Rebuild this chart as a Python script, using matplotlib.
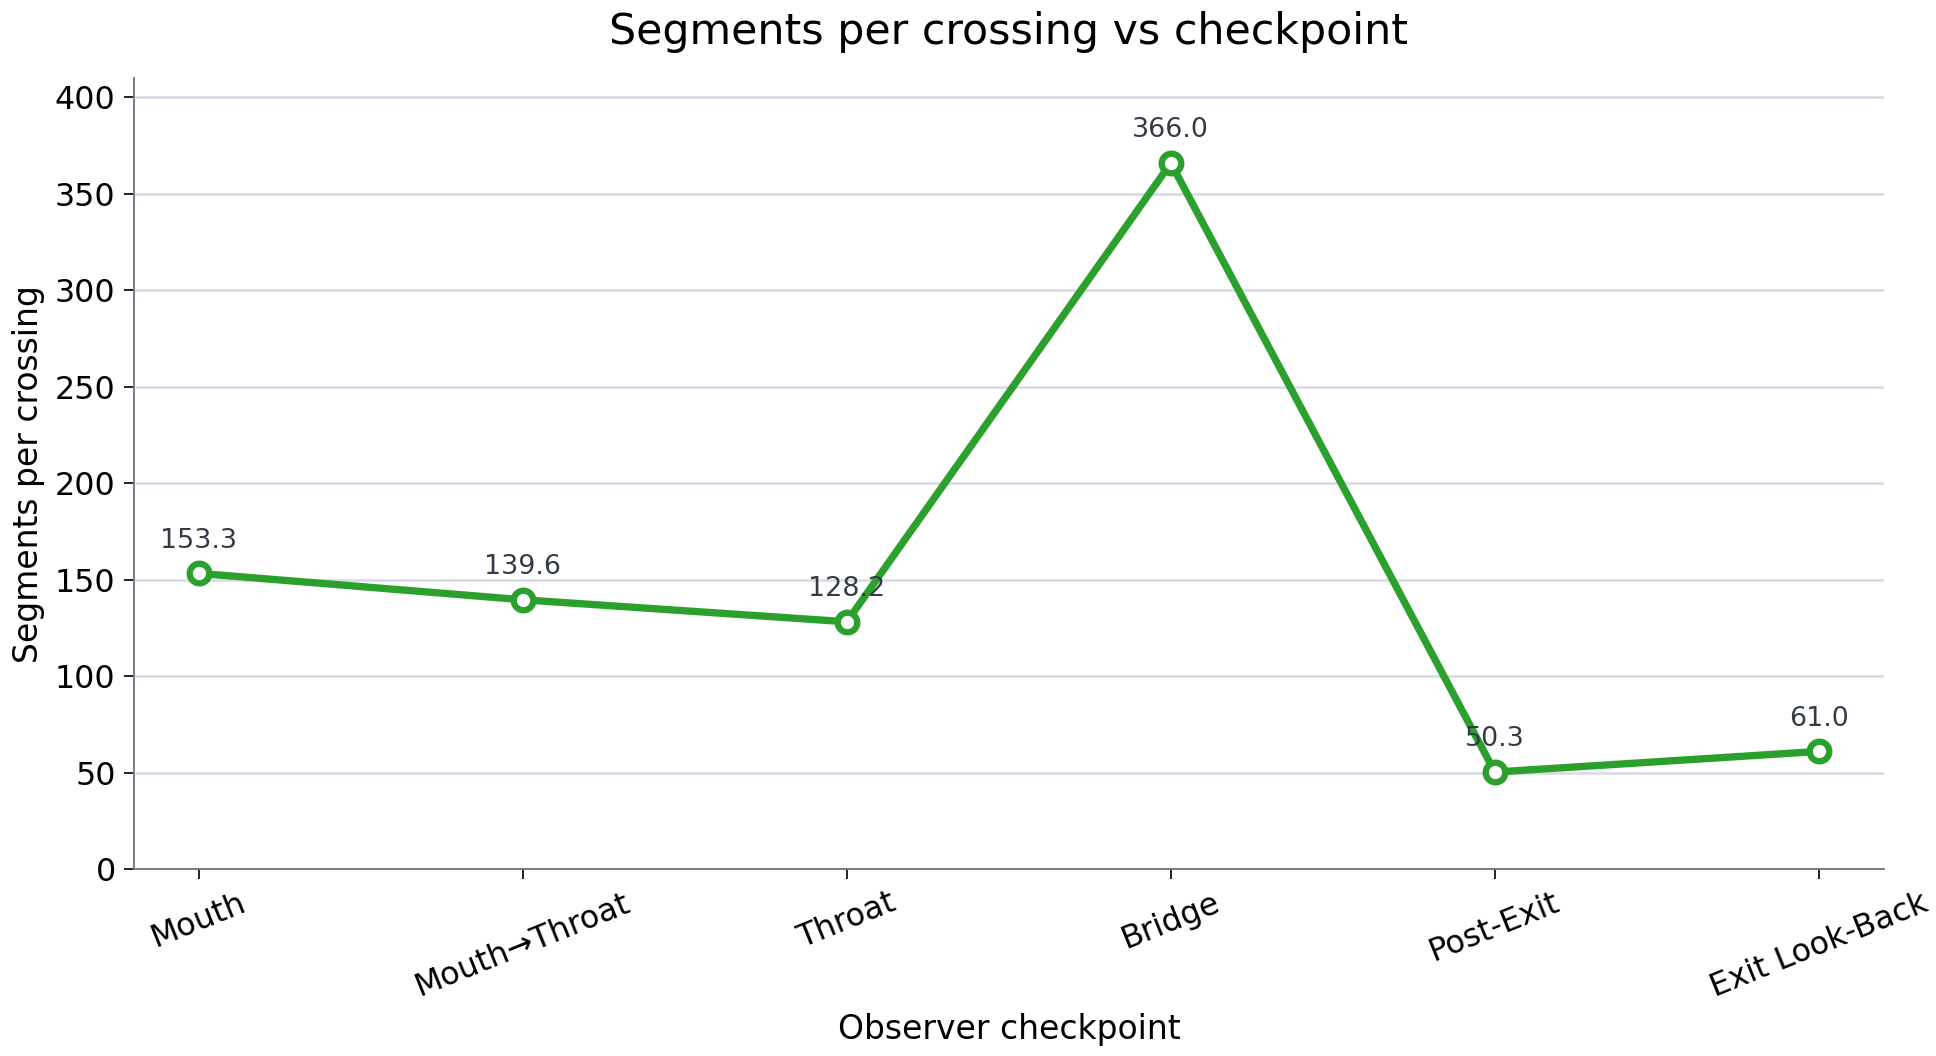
import numpy as np
import matplotlib
matplotlib.use("Agg")
import matplotlib.pyplot as plt

checkpoints = ["Mouth", "Mouth\u2192Throat", "Throat", "Bridge", "Post-Exit", "Exit Look-Back"]
segments_per_crossing = [153.3, 139.6, 128.2, 366.0, 50.3, 61.0]

green = "#2ca02c"
spine_col = "#747d8c"
grid_col = "#d9dce6"

fig, ax = plt.subplots(figsize=(11, 6), dpi=176)
fig.subplots_adjust(left=0.0692, right=0.973, top=0.926, bottom=0.177)

x = np.arange(len(checkpoints))
ax.plot(x, segments_per_crossing, color=green, lw=3, marker="o", ms=8,
        mfc="white", mec=green, mew=2.6, zorder=3)

for xi, v in zip(x, segments_per_crossing):
    ax.annotate(f"{v:.1f}", (xi, v), xytext=(0, 8), textcoords="offset points",
                ha="center", va="bottom", fontsize=11, color="#343a46")

ax.set_xlim(-0.2, 5.2)
ax.set_ylim(0, 410)
ax.set_yticks(np.arange(0, 401, 50))
ax.set_xticks(x)
ax.set_xticklabels(checkpoints, rotation=22, ha="center")
ax.tick_params(labelsize=13, length=4, color="#222222")

ax.grid(axis="y", color=grid_col, lw=1.1)
ax.set_axisbelow(True)
for s in ["top", "right"]:
    ax.spines[s].set_visible(False)
for s in ["left", "bottom"]:
    ax.spines[s].set_color(spine_col)

ax.set_title("Segments per crossing vs checkpoint", fontsize=17.5, pad=14)
ax.set_xlabel("Observer checkpoint", fontsize=13.5)
ax.set_ylabel("Segments per crossing", fontsize=13.5)

plt.savefig("out.png")
